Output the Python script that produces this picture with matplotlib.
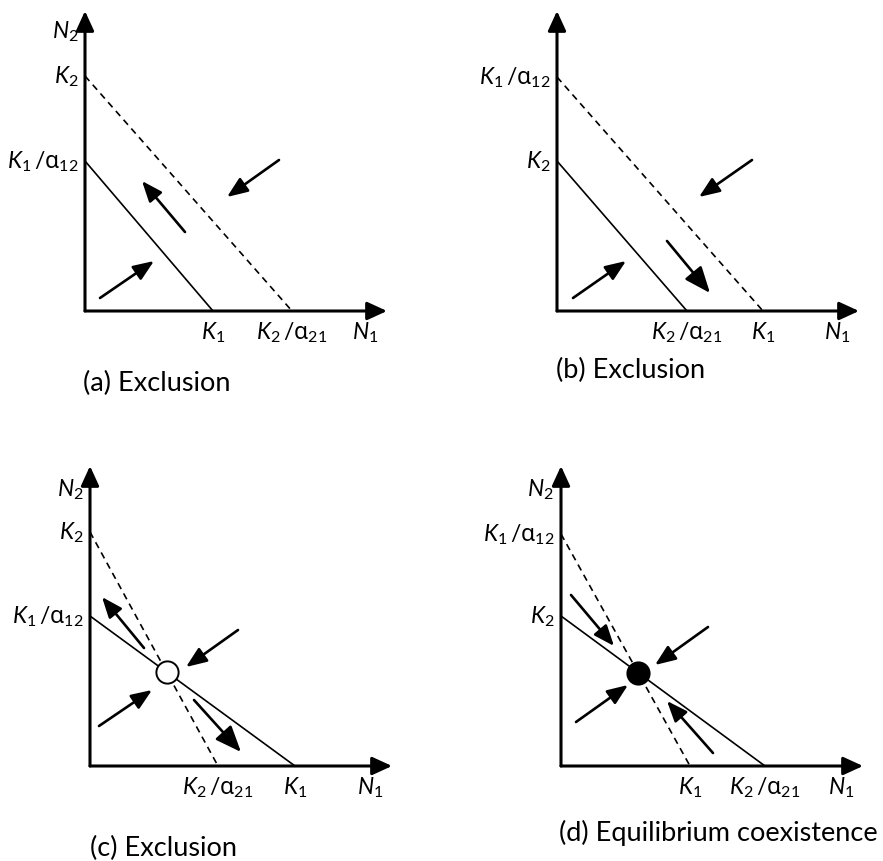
import matplotlib
matplotlib.use("Agg")
import matplotlib.pyplot as plt

plt.rcParams['font.family'] = ['Lato', 'DejaVu Sans']
plt.rcParams['mathtext.fontset'] = 'custom'
plt.rcParams['mathtext.rm'] = 'Lato'
plt.rcParams['mathtext.it'] = 'Lato:italic'
plt.rcParams['mathtext.sf'] = 'Noto Sans'

# isocline intercepts (x-intercept, y-intercept), one entry per panel a..d
solid_x0 = [128, 130, 205, 204]
solid_y0 = [150, 150, 150, 150]
dashed_x0 = [207, 206, 128, 129]
dashed_y0 = [235, 234, 234, 232]

K1 = r'$K_1$'
K2 = r'$K_2$'
K1a = r'$K_1\,/\mathsf{\alpha}_{12}$'
K2a = r'$K_2\,/\mathsf{\alpha}_{21}$'
solid_y_labels = [K1a, K2, K1a, K2]
dashed_y_labels = [K2, K1a, K2, K1a]
solid_x_labels = [K1, K2a, K1, K2a]
dashed_x_labels = [K2a, K1, K2a, K1]
show_n2 = [True, False, True, True]
equilibrium = [None, None, 'unstable', 'stable']
titles = ['(a) Exclusion', '(b) Exclusion', '(c) Exclusion', '(d) Equilibrium coexistence']

# trajectory arrows (x start, y start, x end, y end)
arrows_a = [(15, 13, 69, 50), (100, 79, 57, 130), (194, 151, 142, 114)]
arrows_b = [(16, 13, 69, 50), (110, 70, 153, 18), (195, 151, 142, 114)]
arrows_c = [(54, 118, 12, 169), (148, 136, 96, 99), (9, 40, 62, 76), (104, 66, 151, 14)]
arrows_d = [(10, 171, 53, 120), (147, 139, 94, 101), (15, 44, 67, 81), (152, 13, 106, 65)]
arrows = [arrows_a, arrows_b, arrows_c, arrows_d]

# layout (pixels): panel origins and title offsets
W, H = 883, 862
origins = [(85, 312), (557, 312), (90, 767), (561, 767)]
title_pos = [(-2, -71), (-1, -58), (0, -81), (-2, -66)]
n2_pos = [(-20, 280), None, (-20, 277), (-21, 277)]
xtip, ytip = 302, 300
left, right, below, above = 85, 325, 95, 310
big_heads = {(1, 1), (2, 3)}  # arrows drawn with a larger head

fig = plt.figure(figsize=(W / 100, H / 100), dpi=100)

for i in range(4):
    ox, oy = origins[i]
    ax = fig.add_axes([(ox - left) / W, (H - oy - below) / H,
                       (left + right) / W, (below + above) / H])
    ax.set_xlim(-left, right)
    ax.set_ylim(-below, above)
    ax.axis('off')

    # axes with arrowheads
    for tip in [(xtip, 0), (0, ytip)]:
        ax.annotate('', xy=tip, xytext=(0, 0),
                    arrowprops=dict(arrowstyle='-|>,head_length=1.2,head_width=0.55',
                                    lw=2.2, color='black', shrinkA=0, shrinkB=0))

    # isoclines
    ax.plot([0, solid_x0[i]], [solid_y0[i], 0], color='black', lw=1.2)
    ax.plot([0, dashed_x0[i]], [dashed_y0[i], 0], color='black', lw=1.2,
            dashes=(4, 3))

    # tick labels at intercepts
    fs = 16.5
    ax.text(-6, solid_y0[i], solid_y_labels[i], ha='right', va='center', fontsize=fs)
    ax.text(-6, dashed_y0[i], dashed_y_labels[i], ha='right', va='center', fontsize=fs)
    ax.text(solid_x0[i], -21, solid_x_labels[i], ha='center', va='center', fontsize=fs)
    ax.text(dashed_x0[i], -21, dashed_x_labels[i], ha='center', va='center', fontsize=fs)
    ax.text(280, -21, r'$N_1$', ha='center', va='center', fontsize=fs)
    if show_n2[i]:
        ax.text(n2_pos[i][0], n2_pos[i][1], r'$N_2$', ha='center', va='center', fontsize=fs)

    for j, (x0, y0, x1, y1) in enumerate(arrows[i]):
        if (i, j) in big_heads:
            style = '-|>,head_length=1.6,head_width=0.65'
        else:
            style = '-|>,head_length=1.25,head_width=0.5'
        ax.annotate('', xy=(x1, y1), xytext=(x0, y0),
                    arrowprops=dict(arrowstyle=style, lw=1.9, color='black',
                                    shrinkA=0, shrinkB=0))

    if equilibrium[i] is not None:
        s1 = -solid_y0[i] / solid_x0[i]
        s2 = -dashed_y0[i] / dashed_x0[i]
        ex = (dashed_y0[i] - solid_y0[i]) / (s1 - s2)
        ey = solid_y0[i] + s1 * ex
        face = 'white' if equilibrium[i] == 'unstable' else 'black'
        ax.plot(ex, ey, 'o', ms=16, mfc=face, mec='black', mew=1.4, zorder=5)

    tx, ty = title_pos[i]
    ax.text(tx, ty, titles[i], ha='left', va='center', fontsize=19.5)

fig.savefig('out.png', dpi=100)
